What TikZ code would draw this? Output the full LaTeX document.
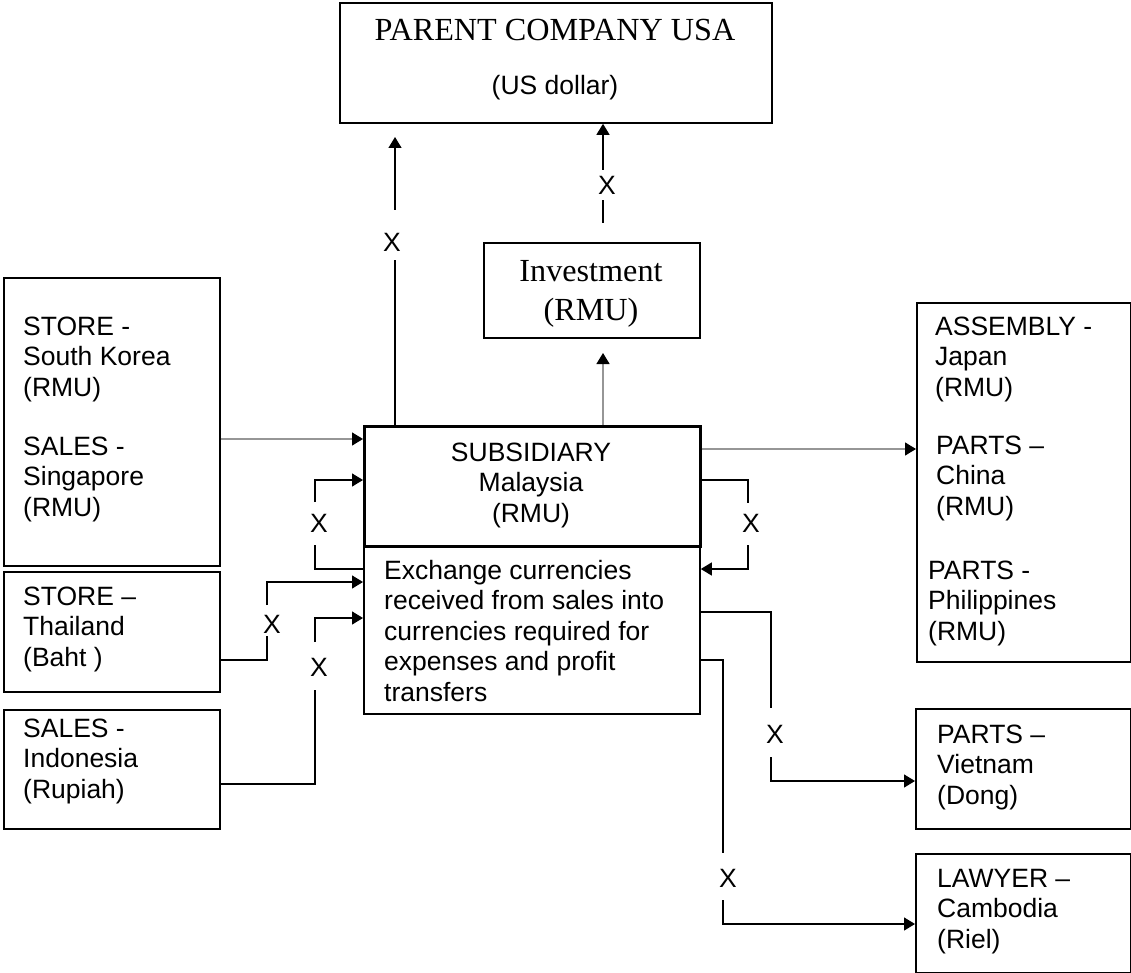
\documentclass[tikz,border=0pt]{standalone}
\usepackage{fontspec}
\setmainfont{Liberation Serif}
\setsansfont{Liberation Sans}
\usetikzlibrary{arrows.meta}
\definecolor{lgray}{RGB}{150,150,150}
\begin{document}
\begin{tikzpicture}[x=1pt,y=-1pt,
  box/.style={draw,line width=1.8pt,inner sep=0pt,anchor=north west},
  sf/.style={font=\fontsize{26.5}{30.5}\selectfont\sffamily},
  rm/.style={font=\fontsize{32.2}{39}\selectfont\rmfamily},
  txt/.style={sf,anchor=base west,inner sep=0pt,align=left},
  ctxt/.style={sf,anchor=base,inner sep=0pt,align=center},
  conn/.style={line width=1.3pt,line cap=butt},
  arr/.style={conn,-{Triangle[length=11pt,width=13pt,color=black]}},
  garr/.style={arr,draw=lgray},
  xl/.style={sf,inner sep=0pt}
]
\useasboundingbox (0,0) rectangle (1131,973);

% boxes
\node[box,minimum width=432pt,minimum height=120pt] (parent) at (339,2) {};
\node[box,minimum width=216pt,minimum height=95pt] (invest) at (483,242) {};
\node[box,minimum width=216pt,minimum height=288pt] (sk) at (3,277) {};
\node[box,minimum width=216pt,minimum height=120pt] (thai) at (3,571) {};
\node[box,minimum width=216pt,minimum height=119pt] (indo) at (3,709) {};
\node[box,line width=2.6pt,minimum width=336pt,minimum height=120pt] (sub) at (363,425) {};
\node[box,minimum width=336pt,minimum height=168pt] (exch) at (363,545) {};
\node[box,minimum width=214pt,minimum height=359pt] (right) at (916,302) {};
\node[box,minimum width=215pt,minimum height=120pt] (viet) at (915,708) {};
\node[box,minimum width=215pt,minimum height=119pt] (camb) at (915,853) {};

% texts (base anchor of a multi-line node = baseline of its last line)
\node[rm,anchor=base,inner sep=0pt] (ptitle) at (555,41) {PARENT COMPANY USA};
\node[ctxt] (pcur) at (555,95) {(US dollar)};
\node[rm,anchor=base,inner sep=0pt,align=center] (itxt) at (591,320) {Investment\\(RMU)};
\node[txt] (sktxt) at (23,396) {STORE -\\South Korea\\(RMU)};
\node[txt] (sgtxt) at (23,516) {SALES -\\Singapore\\(RMU)};
\node[txt] (thtxt) at (23,666) {STORE –\\Thailand\\(Baht )};
\node[txt] (idtxt) at (23,798) {SALES -\\Indonesia\\(Rupiah)};
\node[ctxt] (subtxt) at (531,522) {SUBSIDIARY\\Malaysia\\(RMU)};
\node[txt] (extxt) at (384,701) {Exchange currencies\\received from sales into\\currencies required for\\expenses and profit\\transfers};
\node[txt] (jptxt) at (935,396) {ASSEMBLY -\\Japan\\(RMU)};
\node[txt] (cntxt) at (936,515) {PARTS –\\China\\(RMU)};
\node[txt] (phtxt) at (928,640) {PARTS -\\Philippines\\(RMU)};
\node[txt] (vntxt) at (937,804) {PARTS –\\Vietnam\\(Dong)};
\node[txt] (khtxt) at (937,948) {LAWYER –\\Cambodia\\(Riel)};

% X labels
\node[xl] (xA) at (392,242) {X};
\node[xl] (xB) at (607,185) {X};
\node[xl] (xC) at (319,523) {X};
\node[xl] (xD) at (272,624) {X};
\node[xl] (xE) at (319,667) {X};
\node[xl] (xF) at (751,523) {X};
\node[xl] (xG) at (775,734) {X};
\node[xl] (xH) at (728,878) {X};

% coordinates for gaps
\coordinate (a1) at (395,260); \coordinate (a2) at (395,210); \coordinate (a3) at (395,137);
\coordinate (b1) at (603,223); \coordinate (b2) at (603,200); \coordinate (b3) at (603,170);
\coordinate (b0) at (603,353);
\coordinate (c1) at (315,545); \coordinate (c2) at (315,502);
\coordinate (d1) at (267,636); \coordinate (d2) at (267,605);
\coordinate (e1) at (315,690); \coordinate (e2) at (315,642);
\coordinate (f1) at (748,503); \coordinate (f2) at (748,545);
\coordinate (g1) at (771,708); \coordinate (g2) at (771,757);
\coordinate (h1) at (723,853); \coordinate (h2) at (723,900);

% connectors to parent
\draw[conn] (sub.north -| a1) -- (a1);
\draw[arr] (a2) -- (a3);
\draw[conn] (b1) -- (b2);
\draw[arr] (b3) -- (parent.south -| b3);
\draw[garr] (sub.north -| b0) -- (b0);

% left side
\draw[garr] (sk.east |- 0,439) -- (sub.west |- 0,439);
\draw[conn] (exch.west |- 0,569) -| (c1);
\draw[arr] (c2) |- (sub.west |- 0,480);
\draw[conn] (thai.east |- 0,660) -| (d1);
\draw[arr] (d2) |- (exch.west |- 0,582);
\draw[conn] (indo.east |- 0,784) -| (e1);
\draw[arr] (e2) |- (exch.west |- 0,618);

% right side
\draw[garr] (sub.east |- 0,449) -- (right.west |- 0,449);
\draw[conn] (sub.east |- 0,480) -| (f1);
\draw[arr] (f2) |- (exch.east |- 0,569);
\draw[conn] (exch.east |- 0,612) -| (g1);
\draw[arr] (g2) |- (viet.west |- 0,781);
\draw[conn] (exch.east |- 0,660) -| (h1);
\draw[arr] (h2) |- (camb.west |- 0,924);
\end{tikzpicture}
\end{document}
